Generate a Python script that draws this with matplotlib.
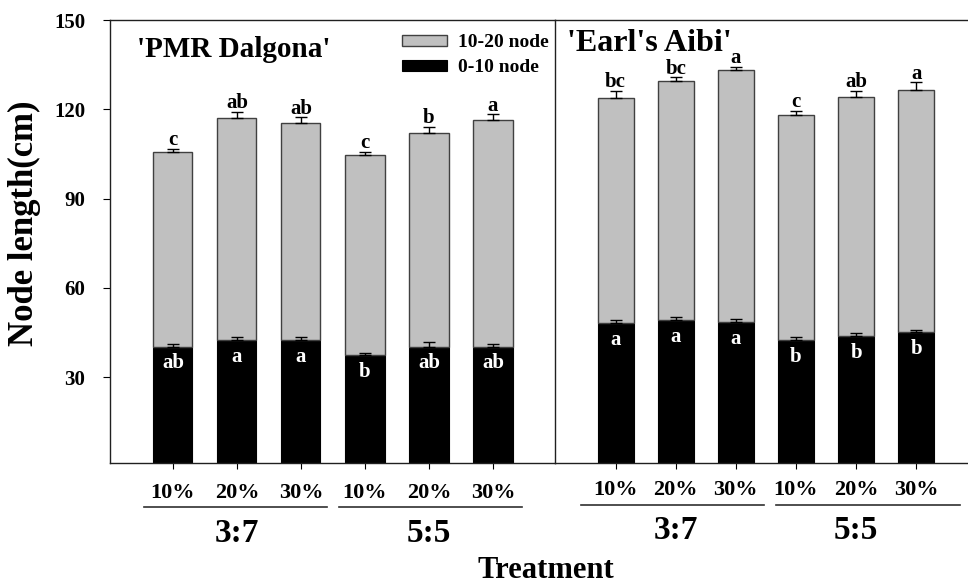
import matplotlib; matplotlib.use('Agg')
import matplotlib.pyplot as plt
import numpy as np

plt.rcParams['font.family'] = ['Liberation Serif', 'DejaVu Serif']
plt.rcParams['font.weight'] = 'bold'

pcts = ['10%', '20%', '30%', '10%', '20%', '30%']
groups = ['3:7', '5:5']

# 'PMR Dalgona'
pmr_low = [40.3, 42.4, 42.4, 37.4, 40.3, 40.3]      # 0-10 node
pmr_low_err = [1.0, 1.0, 1.0, 0.6, 1.4, 1.0]
pmr_total = [105.7, 117.2, 115.4, 104.7, 112.1, 116.4]
pmr_total_err = [1.1, 2.0, 1.9, 1.0, 2.0, 1.9]
pmr_low_lab = ['ab', 'a', 'a', 'b', 'ab', 'ab']
pmr_top_lab = ['c', 'ab', 'ab', 'c', 'b', 'a']

# 'Earl's Aibi'
earl_low = [48.2, 49.3, 48.6, 42.5, 43.9, 45.1]
earl_low_err = [0.9, 0.9, 1.0, 0.9, 1.0, 0.9]
earl_total = [123.9, 129.4, 133.3, 118.0, 124.2, 126.5]
earl_total_err = [2.4, 1.4, 1.0, 1.5, 2.0, 2.6]
earl_low_lab = ['a', 'a', 'a', 'b', 'b', 'b']
earl_top_lab = ['bc', 'bc', 'a', 'c', 'ab', 'a']

W, H = 968, 584
fig = plt.figure(figsize=(W/100, H/100), dpi=100)
axL = fig.add_axes([110/W, 1-463/H, 445/W, 443/H])
axR = fig.add_axes([555/W, 1-463/H, 413/W, 443/H])

def panel(ax, low, low_err, total, total_err, low_lab, top_lab, width, xlim,
          pct_y, line_y, grp_y, lines):
    x = np.arange(len(low))
    low = np.array(low); total = np.array(total)
    upper = total - low
    b1 = ax.bar(x, low, width, color='black', edgecolor='black', lw=0.8, zorder=2)
    b2 = ax.bar(x, upper, width, bottom=low, color='#c0c0c0', edgecolor='#404040', lw=1.0, zorder=2)
    ax.errorbar(x, low, yerr=[np.zeros(len(x)), low_err], fmt='none', ecolor='black',
                elinewidth=1, capsize=4, capthick=1, zorder=3)
    ax.errorbar(x, total, yerr=[np.zeros(len(x)), total_err], fmt='none', ecolor='black',
                elinewidth=1, capsize=4, capthick=1, zorder=3)
    for i in range(len(x)):
        ax.text(x[i], total[i] + total_err[i] + 1.2, top_lab[i], ha='center', va='baseline',
                fontsize=15, fontweight='bold')
        ax.text(x[i], low[i] - 2.3, low_lab[i], ha='center', va='top', color='white',
                fontsize=15, fontweight='bold')
    ax.set_xlim(*xlim)
    ax.set_ylim(1.2, 150)
    ax.set_xticks(x)
    ax.set_xticklabels([])
    ax.tick_params(axis='x', direction='out', length=4, width=0.8)
    tr = ax.get_xaxis_transform()
    for i in range(len(x)):
        ax.text(x[i], pct_y, pcts[i], transform=tr, ha='center', va='center', fontsize=16,
                fontweight='bold', clip_on=False)
    for (x0, x1) in lines:
        ax.plot([x0, x1], [line_y, line_y], transform=tr, color='#303030', lw=1.2, clip_on=False)
    ax.text(1, grp_y, groups[0], transform=tr, ha='center', va='center', fontsize=24,
            fontweight='bold', clip_on=False)
    ax.text(4, grp_y, groups[1], transform=tr, ha='center', va='center', fontsize=24,
            fontweight='bold', clip_on=False)
    for s in ax.spines.values():
        s.set_linewidth(1.0)
        s.set_color('#202020')
    return b1, b2

b1, b2 = panel(axL, pmr_low, pmr_low_err, pmr_total, pmr_total_err, pmr_low_lab, pmr_top_lab,
               0.61, (-0.984, 5.969), -0.067, -0.099, -0.160,
               [(-0.45, 2.41), (2.59, 5.45)])
panel(axR, earl_low, earl_low_err, earl_total, earl_total_err, earl_low_lab, earl_top_lab,
      0.6, (-1.007, 5.86), -0.062, -0.095, -0.153,
      [(-0.57, 2.47), (2.67, 5.72)])

axL.set_yticks([30, 60, 90, 120, 150])
axL.tick_params(axis='y', direction='out', length=5, width=0.8, pad=13, labelsize=15)
for t in axL.get_yticklabels():
    t.set_fontweight('bold')
axL.spines['right'].set_visible(False)
axR.set_yticks([])
axR.spines['right'].set_visible(False)

axL.text(0.0607, 0.9165, "'PMR Dalgona'", transform=axL.transAxes, fontsize=21,
         fontweight='bold', va='baseline', ha='left')
axR.text(0.029, 0.93, "'Earl's Aibi'", transform=axR.transAxes, fontsize=23,
         fontweight='bold', va='baseline', ha='left')

axL.legend([b2, b1], ['10-20 node', '0-10 node'], loc='upper left',
           bbox_to_anchor=(0.656, 0.968), frameon=False,
           handlelength=2.3, handleheight=0.5, handletextpad=0.6,
           labelspacing=0.4, borderpad=0, borderaxespad=0,
           prop={'weight': 'bold', 'size': 14})

fig.text(24/W, 1-223/H, 'Node length(cm)', rotation=90, ha='center', va='center',
         fontsize=25, fontweight='bold')
fig.text(546/W, 1-578/H, 'Treatment', ha='center', va='baseline', fontsize=22,
         fontweight='bold')

fig.savefig('out.png', dpi=100)
